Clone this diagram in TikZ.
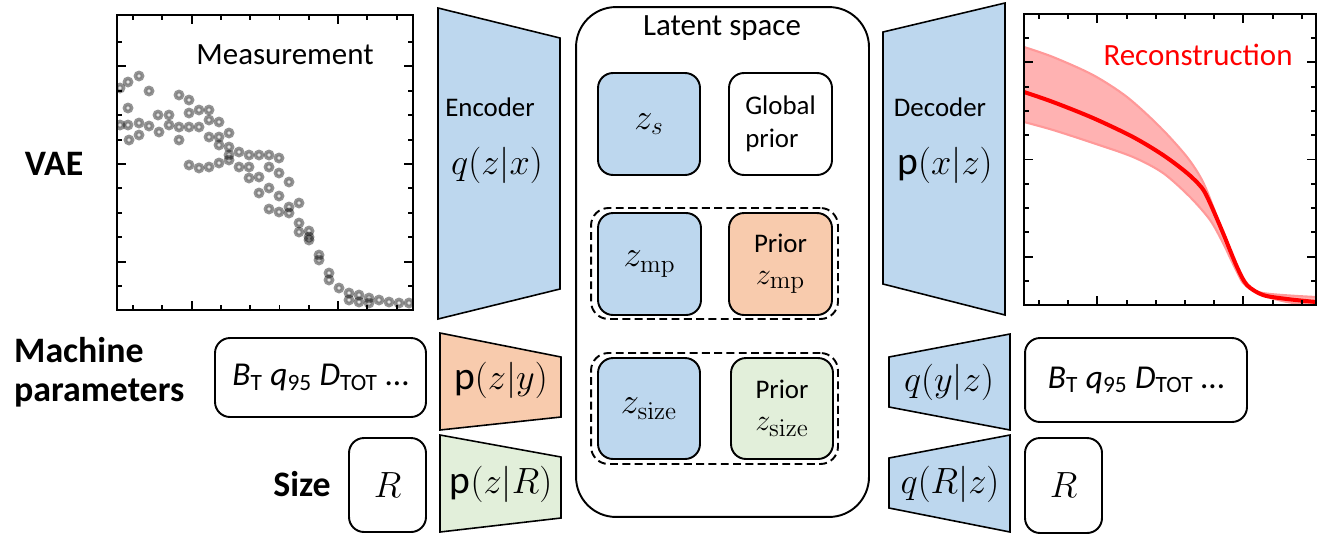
\documentclass[tikz,border=0pt]{standalone}
\usepackage[no-math]{fontspec}
\setmainfont{Carlito}
\usepackage{amsmath}
\usetikzlibrary{positioning}
\definecolor{encblue}{RGB}{189,215,238}
\definecolor{mporange}{RGB}{248,203,173}
\definecolor{sizegreen}{RGB}{226,239,218}
\tikzset{
  lbox/.style={draw, line width=1.1pt, rounded corners=0.3cm, inner sep=0pt, align=center},
  grpbox/.style={draw, dash pattern=on 4.5pt off 2.5pt, line width=1.1pt, rounded corners=0.35cm,
    minimum width=4.94cm, minimum height=2.22cm, inner sep=0pt},
  net/.style={draw, line width=0.9pt},
  txt/.style={font=\fontsize{15.3}{19}\selectfont},
  bigtxt/.style={font=\fontsize{17.6}{21}\selectfont},
  ztxt/.style={font=\fontsize{21}{24}\selectfont},
  mathtxt/.style={font=\fontsize{22.5}{26}\selectfont},
  rowlabel/.style={font=\fontsize{20.4}{22}\selectfont\bfseries, align=left},
  scatterpt/.style={draw=black, draw opacity=0.42, line width=2pt, fill=black, fill opacity=0.1},
  frame/.style={line width=1.1pt},
}

\begin{document}
\begin{tikzpicture}[x=0.02cm, y=-0.02cm]
  \useasboundingbox (0,0) rectangle (1327,535);

  % row labels
  \node[rowlabel] (vae) at (54,164) {VAE};
  \node[rowlabel, anchor=west] (mplbl) at (8,372) {Machine\\parameters};
  \node[rowlabel] (sizelbl) at (302,484) {Size};

  % measurement plot
  \begin{scope}
    \clip (117,15) rectangle (413,310);
    \foreach \p in {(120,88),(128,82),(139,76),(149,91),(128,108),(120,125),(128,125),(139,123),
      (149,126),(139,135),(129,140),(158,115),(159,132),(169,115),(169,125),(179,95),(189,100),
      (179,127),(189,127),(179,140),(189,113),(199,110),(209,110),(199,127),(209,120),(219,122),
      (209,137),(219,137),(229,133),(219,145),(229,147),(229,155),(239,152),(249,155),(259,155),
      (269,155),(279,158),(189,165),(199,168),(209,167),(219,163),(229,160),(239,167),(249,167),
      (249,178),(259,177),(269,167),(279,173),(289,182),(259,193),(269,188),(279,196),(269,209),
      (279,212),(289,213),(289,207),(299,203),(299,223),(299,232),(309,231),(309,237),(309,240),
      (319,255),(319,260),(329,273),(329,280),(339,288),(349,293),(349,300),(359,295),(359,302),
      (369,298),(369,303),(379,300),(389,302),(399,303),(409,303)}
      \draw[scatterpt] \p circle (0.072cm);
  \end{scope}
  \draw[frame] (117,15) rectangle (413,310);
  \foreach \i in {0,...,9} {
    \pgfmathsetmacro\xx{133+29.3*\i}
    \pgfmathsetmacro\tl{(\i==2 || \i==7) ? 9 : 5}
    \draw[frame] (\xx,310) -- ++(0,-\tl);
    \draw[frame] (\xx,15) -- ++(0,\tl);
  }
  \foreach \j in {0,...,10} {
    \pgfmathsetmacro\yy{42+24.4*\j}
    \pgfmathsetmacro\tl{(\j==1 || \j==5 || \j==9) ? 9 : 5}
    \draw[frame] (117,\yy) -- ++(\tl,0);
    \draw[frame] (413,\yy) -- ++(-\tl,0);
  }
  \node[bigtxt] (meas) at (285,55) {Measurement};

  % encoder
  \filldraw[net, fill=encblue] (438,8) -- (560,38) -- (560,289) -- (438,319) -- cycle;
  \node[txt] (enclbl) at (490,107) {Encoder};
  \node[mathtxt] (encq) at (497,165) {$q(z|x)$};

  % conditional encoders
  \filldraw[net, fill=mporange] (440,333) -- (561,357) -- (561,417) -- (440,430) -- cycle;
  \node[mathtxt] (pzy) at (501,380) {$\text{p}(z|y)$};
  \filldraw[net, fill=sizegreen] (440,435) -- (561,457) -- (561,518) -- (440,532) -- cycle;
  \node[mathtxt] (pzr) at (501,484) {$\text{p}(z|R)$};

  % inputs
  \node[lbox, minimum width=4.22cm, minimum height=1.58cm, font=\fontsize{19}{22}\selectfont] (mpin) at (320.5,377.5)
    {{\itshape B}\textsubscript{T} {\itshape q}\textsubscript{95} {\itshape D}\textsubscript{TOT} \dots};
  \node[lbox, minimum width=1.54cm, minimum height=1.88cm, font=\fontsize{21}{24}\selectfont] (rin) at (387.5,485) {$R$};

  % latent space
  \node[draw, line width=1.1pt, rounded corners=0.8cm, minimum width=5.86cm, minimum height=10.2cm] (latent) at (722.5,262) {};
  \node[bigtxt] (latlbl) at (722,28) {Latent space};

  \node[lbox, fill=encblue, minimum width=2.04cm, minimum height=2.04cm, ztxt] (zs) at (649,124) {$z_s$};
  \node[lbox, txt, minimum width=2.06cm, minimum height=2.04cm, align=left] (gprior) at (780.5,124) {Global\\prior};

  \node[grpbox] (grpmp) at (714.5,263.5) {};
  \node[lbox, fill=encblue, minimum width=2.06cm, minimum height=2.04cm, ztxt] (zmp) at (649.5,264) {$z_{\mathrm{mp}}$};
  \node[lbox, fill=mporange, minimum width=2.06cm, minimum height=2.04cm] (pmp) at (780.5,264)
    {\fontsize{15.3}{19}\selectfont Prior\\[6pt] \fontsize{19}{22}\selectfont $z_{\mathrm{mp}}$};

  \node[grpbox] (grpsize) at (714.5,408.5) {};
  \node[lbox, fill=encblue, minimum width=2.04cm, minimum height=2.02cm, ztxt] (zsize) at (649,408.5) {$z_{\mathrm{size}}$};
  \node[lbox, fill=sizegreen, minimum width=2.04cm, minimum height=2.02cm] (psize) at (782,408.5)
    {\fontsize{15.3}{19}\selectfont Prior\\[6pt] \fontsize{19}{22}\selectfont $z_{\mathrm{size}}$};

  % decoder
  \filldraw[net, fill=encblue] (883,32) -- (1005,3) -- (1005,315) -- (883,284) -- cycle;
  \node[txt] (declbl) at (940,107) {Decoder};
  \node[mathtxt] (decp) at (945,165) {$\text{p}(x|z)$};

  % conditional decoders
  \filldraw[net, fill=encblue] (889,357) -- (1010,334) -- (1010,430) -- (889,407) -- cycle;
  \node[mathtxt] (qyz) at (949,382) {$q(y|z)$};
  \filldraw[net, fill=encblue] (889,458) -- (1010,435) -- (1010,532) -- (889,508) -- cycle;
  \node[mathtxt] (qrz) at (950,484) {$q(R|z)$};

  % outputs
  \node[lbox, minimum width=4.44cm, minimum height=1.68cm, font=\fontsize{19}{22}\selectfont] (mpout) at (1136,380)
    {{\itshape B}\textsubscript{T} {\itshape q}\textsubscript{95} {\itshape D}\textsubscript{TOT} \dots};
  \node[lbox, minimum width=1.54cm, minimum height=1.9cm, font=\fontsize{21}{24}\selectfont] (rout) at (1063.5,485.5) {$R$};

  % reconstruction plot
  \begin{scope}
    \clip (1024,14) rectangle (1316,305);
    \fill[red!30] plot[smooth] coordinates {(1024,47) (1053,57) (1093,75) (1127,97) (1160,127) (1187,157)
      (1203,182) (1217,217) (1230,253) (1243,283) (1263,293) (1316,297)}
      -- plot[smooth] coordinates {(1316,305) (1287,302) (1257,293) (1240,277) (1223,243) (1210,220)
      (1190,197) (1163,173) (1133,157) (1093,143) (1053,130) (1024,122)} -- cycle;
    \draw[red!40, line width=1.2pt] plot[smooth] coordinates {(1024,47) (1053,57) (1093,75) (1127,97)
      (1160,127) (1187,157) (1203,182) (1217,217) (1230,253) (1243,283) (1263,293) (1316,297)};
    \draw[red!40, line width=1.2pt] plot[smooth] coordinates {(1316,305) (1287,302) (1257,293) (1240,277)
      (1223,243) (1210,220) (1190,197) (1163,173) (1133,157) (1093,143) (1053,130) (1024,122)};
    \draw[red, line width=2.3pt] plot[smooth] coordinates {(1024,92) (1053,102) (1093,118) (1133,137)
      (1163,155) (1187,173) (1202,188) (1210,203) (1223,233) (1237,267) (1247,285) (1263,295)
      (1287,299) (1316,302)};
  \end{scope}
  \draw[frame] (1024,14) rectangle (1316,305);
  \foreach \i in {0,...,9} {
    \pgfmathsetmacro\xx{1039+29.2*\i}
    \pgfmathsetmacro\tl{(\i==2 || \i==7) ? 9 : 5}
    \draw[frame] (\xx,305) -- ++(0,-\tl);
    \draw[frame] (\xx,14) -- ++(0,\tl);
  }
  \foreach \j in {0,...,10} {
    \pgfmathsetmacro\yy{38+24.3*\j}
    \pgfmathsetmacro\tl{(\j==1 || \j==5 || \j==9) ? 9 : 5}
    \draw[frame] (1024,\yy) -- ++(\tl,0);
    \draw[frame] (1316,\yy) -- ++(-\tl,0);
  }
  \node[bigtxt, text=red] (recon) at (1198,55) {Reconstruction};
\end{tikzpicture}
\end{document}
